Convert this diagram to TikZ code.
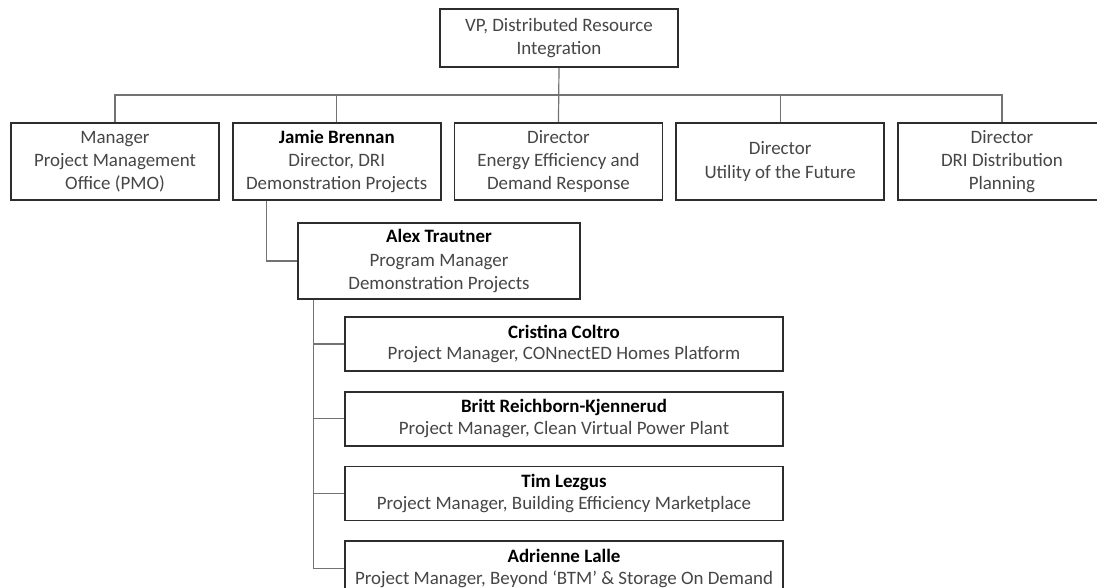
\documentclass[tikz,border=0pt]{standalone}
\usepackage{fontspec}
\setmainfont{Carlito}
\usepackage{xcolor}
\usepackage{tikz}
\usetikzlibrary{positioning, calc}
\definecolor{boxgray}{RGB}{45,45,45}
\definecolor{linegray}{RGB}{115,115,115}
\definecolor{txtgray}{RGB}{70,70,70}
\newcommand{\pname}[1]{{\color{black}\bfseries #1}}

\tikzset{
  orgbox/.style={draw=boxgray, line width=1.3pt, fill=white, align=center, text=txtgray, inner sep=2pt, font=\fontsize{14.2}{17.3}\selectfont},
  dirbox/.style={orgbox, minimum width=156pt, minimum height=57.75pt},
  pmbox/.style={orgbox, minimum width=328.5pt, minimum height=40.5pt, font=\fontsize{14.2}{16.2}\selectfont},
  link/.style={draw=linegray, line width=0.9pt}
}

\begin{document}
\begin{tikzpicture}[x=0.75pt, y=-0.75pt]
\clip (0,0) rectangle (1097,588);
\fill[white] (0,0) rectangle (1097,588);
% top
\node[orgbox, minimum width=178.5pt, minimum height=43.5pt] (vp) at (559,38) {VP, Distributed Resource\\Integration};
% directors
\node[dirbox] (pmo) at (115,161.5) {Manager\\Project Management\\Office (PMO)};
\node[dirbox, right=9pt of pmo] (jamie) {\pname{Jamie Brennan}\\Director, DRI\\Demonstration Projects};
\node[dirbox, right=9pt of jamie] (energy) {Director\\Energy Efficiency and\\Demand Response};
\node[dirbox, right=9pt of energy] (utility) {Director\\Utility of the Future};
\node[dirbox, right=9pt of utility] (dri) {Director\\DRI Distribution\\Planning};
% program manager
\node[orgbox, minimum width=211.5pt, minimum height=57pt] (alex) at (439,261) {\pname{Alex Trautner}\\Program Manager\\Demonstration Projects};
% project managers
\node[pmbox] (cristina) at (564,344) {\pname{Cristina Coltro}\\Project Manager, CONnectED Homes Platform};
\node[pmbox, below=14.25pt of cristina] (britt) {\pname{Britt Reichborn-Kjennerud}\\Project Manager, Clean Virtual Power Plant};
\node[pmbox, below=14.25pt of britt] (tim) {\pname{Tim Lezgus}\\Project Manager, Building Efficiency Marketplace};
\node[pmbox, below=14.25pt of tim] (adrienne) {\pname{Adrienne Lalle}\\Project Manager, Beyond ‘BTM’ \& Storage On Demand};
% connectors
\coordinate (bus) at ($(vp.south)!0.5!(energy.north)$);
\draw[link] (vp.south) -- (energy.north);
\draw[link] (pmo.north) |- (bus) -| (dri.north);
\draw[link] (jamie.north) |- (bus);
\draw[link] (utility.north) |- (bus);
\draw[link] ($(jamie.south west)+(35,0)$) |- (alex.west);
\foreach \n in {cristina, britt, tim, adrienne}
  \draw[link] ($(alex.south west)+(16,0)$) |- (\n.west);
\end{tikzpicture}
\end{document}
